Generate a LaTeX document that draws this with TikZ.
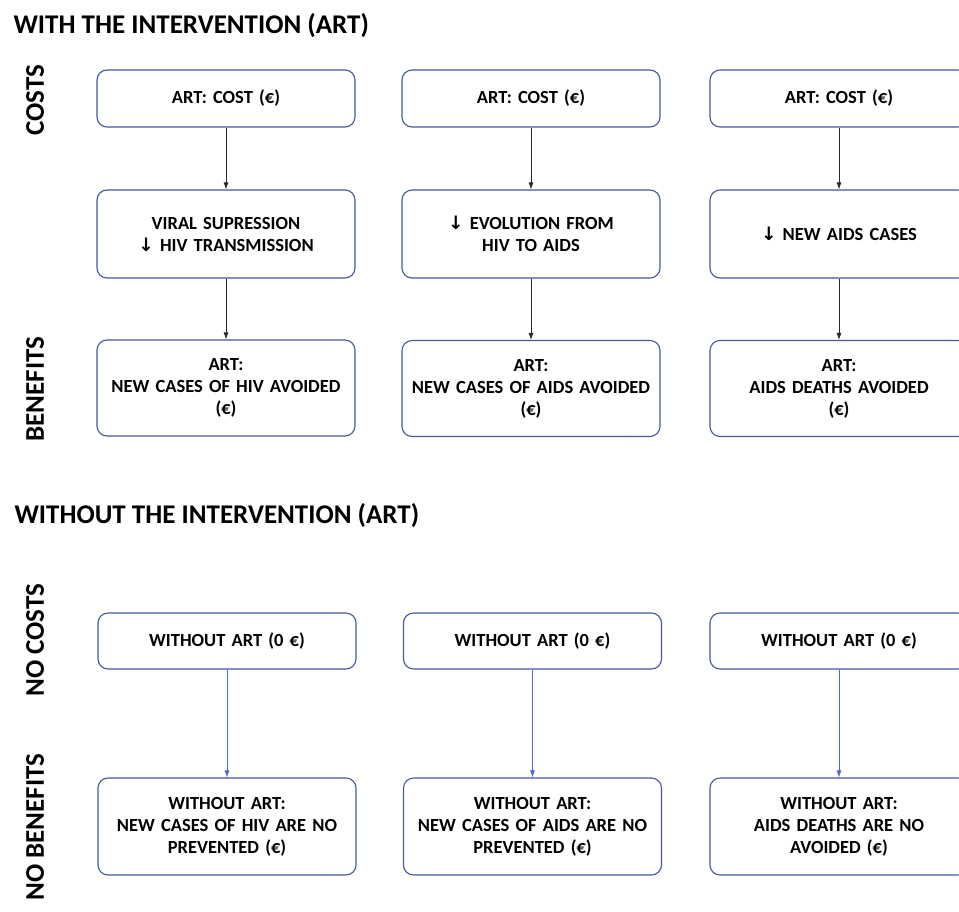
\documentclass[tikz,border=0pt]{standalone}
\usepackage{fontspec}
\setmainfont{Carlito}
\newfontfamily\arrowfont{DejaVu Sans}
\usetikzlibrary{arrows.meta}
\definecolor{boxblue}{RGB}{72,86,162}
\definecolor{linkblue}{RGB}{78,100,210}
\definecolor{linkgrey}{RGB}{40,40,40}
\newcommand{\dn}{{\arrowfont\bfseries ↓}}
\begin{document}
\begin{tikzpicture}[x=1pt,y=-1pt,
    box/.style={draw=boxblue,line width=1.1pt,rounded corners=10pt,
        text width=240pt,inner xsep=9pt,inner ysep=0pt,align=center,
        font=\bfseries\fontsize{18.5}{22}\selectfont},
    title/.style={anchor=base west,font=\bfseries\fontsize{27}{32}\selectfont},
    side/.style={rotate=90,font=\bfseries\fontsize{27}{32}\selectfont},
    link/.style={-{Latex[length=7pt,width=5pt]},line width=0.8pt}]
        \clip (0,0) rectangle (959,911);
        \fill[white] (0,0) rectangle (959,911);

        \node[title] (with) at (10,33) {WITH THE INTERVENTION (ART)};
        \node[title] (without) at (11,523) {WITHOUT THE INTERVENTION (ART)};

        \node[side] (costs) at (35,100) {COSTS};
        \node[side] (benefits) at (35,389) {BENEFITS};
        \node[side] (nocosts) at (35,640) {NO COSTS};
        \node[side] (nobenefits) at (35,827) {NO BENEFITS};

        \begin{scope}[every node/.style={box}]
            % Column 1
            \node[minimum height=57pt] (c1cost) at (226,98.5) {ART: COST (€)};
            \node[minimum height=88pt] (c1effect) at (226,234) {VIRAL SUPRESSION\\\dn{} HIV TRANSMISSION};
            \node[minimum height=96pt] (c1gain) at (226,388) {ART:\\NEW CASES OF HIV AVOIDED\\(€)};

            % Column 2
            \node[minimum height=57pt] (c2cost) at (531,98.5) {ART: COST (€)};
            \node[minimum height=88pt] (c2effect) at (531,234) {\dn{} EVOLUTION FROM\\HIV TO AIDS};
            \node[minimum height=96pt] (c2gain) at (531,388.5) {ART:\\NEW CASES OF AIDS AVOIDED\\(€)};

            % Column 3
            \node[minimum height=57pt] (c3cost) at (839,98.5) {ART: COST (€)};
            \node[minimum height=88pt] (c3effect) at (839,234) {\dn{} NEW AIDS CASES};
            \node[minimum height=96pt] (c3gain) at (839,388.5) {ART:\\AIDS DEATHS AVOIDED\\(€)};

            % Without ART
            \node[minimum height=56pt] (c1none) at (227,641) {WITHOUT ART (0 €)};
            \node[minimum height=97pt] (c1loss) at (227,826.5) {WITHOUT ART:\\NEW CASES OF HIV ARE NO\\PREVENTED (€)};
            \node[minimum height=56pt] (c2none) at (532.5,641) {WITHOUT ART (0 €)};
            \node[minimum height=97pt] (c2loss) at (532.5,826.5) {WITHOUT ART:\\NEW CASES OF AIDS ARE NO\\PREVENTED (€)};
            \node[minimum height=56pt] (c3none) at (839,641) {WITHOUT ART (0 €)};
            \node[minimum height=97pt] (c3loss) at (839,826.5) {WITHOUT ART:\\AIDS DEATHS ARE NO\\AVOIDED (€)};
        \end{scope}

        \path (c1cost) edge[link,linkgrey] (c1effect);
        \path (c1effect) edge[link,linkgrey] (c1gain);
        \path (c2cost) edge[link,linkgrey] (c2effect);
        \path (c2effect) edge[link,linkgrey] (c2gain);
        \path (c3cost) edge[link,linkgrey] (c3effect);
        \path (c3effect) edge[link,linkgrey] (c3gain);

        \path (c1none) edge[link,linkblue] (c1loss);
        \path (c2none) edge[link,linkblue] (c2loss);
        \path (c3none) edge[link,linkblue] (c3loss);
    \end{tikzpicture}
\end{document}
